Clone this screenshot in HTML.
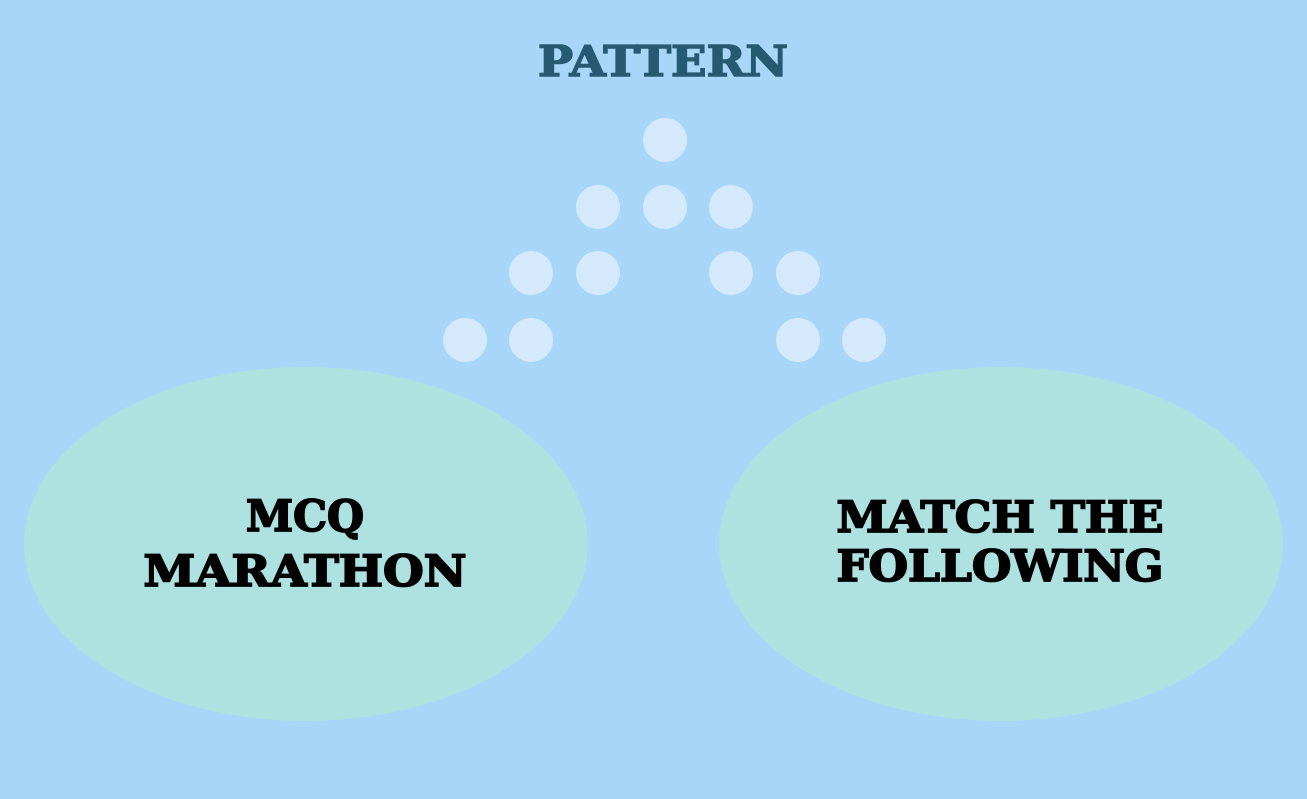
<!DOCTYPE html>
<html><head><style>
html,body{margin:0;padding:0;}
body{width:1307px;height:799px;background:#a8d6f9;position:relative;overflow:hidden;}
svg{position:absolute;left:0;top:0;}
text{font-family:"DejaVu Serif","Liberation Serif",serif;font-weight:bold;}
</style></head><body>
<svg width="1307" height="799" viewBox="0 0 1307 799">
<rect width="1307" height="799" fill="#a8d6f9"/>
<text x="663" y="76" text-anchor="middle" font-size="42" fill="#265a70" stroke="#265a70" stroke-width="1.5" textLength="250" lengthAdjust="spacingAndGlyphs">PATTERN</text>
<g fill="#d4e9fb">
<circle cx="665" cy="140" r="22"/>
<circle cx="598" cy="207" r="22"/><circle cx="665" cy="207" r="22"/><circle cx="731" cy="207" r="22"/>
<circle cx="531" cy="273" r="22"/><circle cx="598" cy="273" r="22"/><circle cx="731" cy="273" r="22"/><circle cx="798" cy="273" r="22"/>
<circle cx="465" cy="340" r="22"/><circle cx="531" cy="340" r="22"/><circle cx="798" cy="340" r="22"/><circle cx="864" cy="340" r="22"/>
</g>
<ellipse cx="306" cy="544" rx="282" ry="177" fill="#aee2e0"/>
<ellipse cx="1001" cy="544" rx="282" ry="177" fill="#aee2e0"/>
<g fill="#000" stroke="#000" stroke-width="1.8" font-size="43">
<text x="305" y="531" text-anchor="middle" textLength="118" lengthAdjust="spacingAndGlyphs">MCQ</text>
<text x="305" y="586" text-anchor="middle" textLength="323" lengthAdjust="spacingAndGlyphs">MARATHON</text>
<text x="1000" y="532" text-anchor="middle" textLength="327" lengthAdjust="spacingAndGlyphs">MATCH THE</text>
<text x="1000" y="581" text-anchor="middle" textLength="327" lengthAdjust="spacingAndGlyphs">FOLLOWING</text>
</g>
</svg>
</body></html>
